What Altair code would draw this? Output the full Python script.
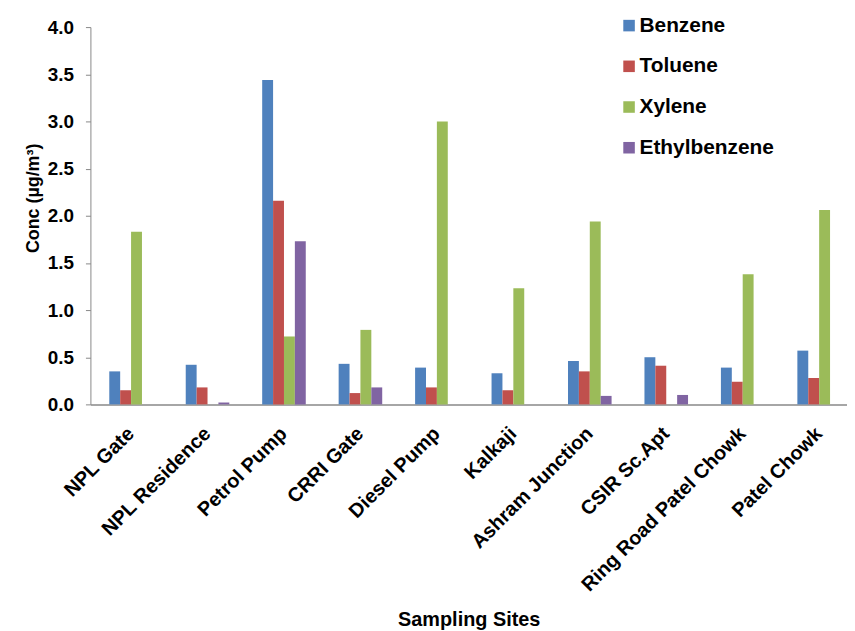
import altair as alt
import pandas as pd

sites = ["NPL Gate", "NPL Residence", "Petrol Pump", "CRRI Gate", "Diesel Pump",
         "Kalkaji", "Ashram Junction", "CSIR Sc.Apt", "Ring Road Patel Chowk", "Patel Chowk"]
compounds = ["Benzene", "Toluene", "Xylene", "Ethylbenzene"]
benzene = [0.35, 0.42, 3.44, 0.43, 0.39, 0.33, 0.46, 0.50, 0.39, 0.57]
toluene = [0.15, 0.18, 2.16, 0.12, 0.18, 0.15, 0.35, 0.41, 0.24, 0.28]
xylene = [1.83, 0.0, 0.72, 0.79, 3.00, 1.23, 1.94, 0.0, 1.38, 2.06]
ethylbenzene = [0.0, 0.02, 1.73, 0.18, 0.0, 0.0, 0.09, 0.10, 0.0, 0.0]
colors = ["#4F81BD", "#C0504D", "#9BBB59", "#8064A2"]

rows = []
for name, vals in zip(compounds, [benzene, toluene, xylene, ethylbenzene]):
    for s, v in zip(sites, vals):
        rows.append({"site": s, "compound": name, "value": v})
df = pd.DataFrame(rows)

FONT = "Liberation Sans"

chart = alt.Chart(df).mark_bar().encode(
    x=alt.X("site:N", sort=sites, title="Sampling Sites",
            scale=alt.Scale(paddingInner=0.43, paddingOuter=0.163, align=0.757),
            axis=alt.Axis(labelAngle=-45, labelAlign="right", labelBaseline="middle",
                          ticks=False, labelPadding=26, labelLimit=0,
                          labelFontWeight="bold", labelFontSize=20, labelFont=FONT,
                          labelColor="black", domainColor="#888888", domainWidth=1.5,
                          titleFont=FONT, titleFontSize=20, titleFontWeight="bold",
                          titleColor="black", titlePadding=15)),
    xOffset=alt.XOffset("compound:N", sort=compounds, scale=alt.Scale(paddingInner=0)),
    y=alt.Y("value:Q", title="Conc (µg/m³)",
            scale=alt.Scale(domain=[0, 4]),
            axis=alt.Axis(values=[0, 0.5, 1, 1.5, 2, 2.5, 3, 3.5, 4], format=".1f",
                          grid=False, tickSize=5, tickColor="#888888", domainColor="#888888",
                          labelFont=FONT, labelFontSize=19, labelFontWeight="bold",
                          labelColor="black", labelPadding=12,
                          titleFont=FONT, titleFontSize=18, titleFontWeight="bold",
                          titleColor="black", titlePadding=5, titleY=172)),
    color=alt.Color("compound:N", sort=compounds,
                    scale=alt.Scale(domain=compounds, range=colors),
                    legend=alt.Legend(title=None, orient="none", legendX=532, legendY=-12,
                                      symbolType="square", symbolSize=135,
                                      symbolStrokeWidth=0, labelFont=FONT,
                                      labelFontSize=21, labelFontWeight="bold",
                                      labelColor="black", rowPadding=19, labelOffset=0)),
).properties(
    width=762, height=380,
    autosize=alt.AutoSizeParams(type="none"),
    padding={"left": 83, "top": 17, "right": 0, "bottom": 226},
).configure_view(stroke=None)

chart.save("out.html", embed_options={"renderer": "svg", "actions": False})
